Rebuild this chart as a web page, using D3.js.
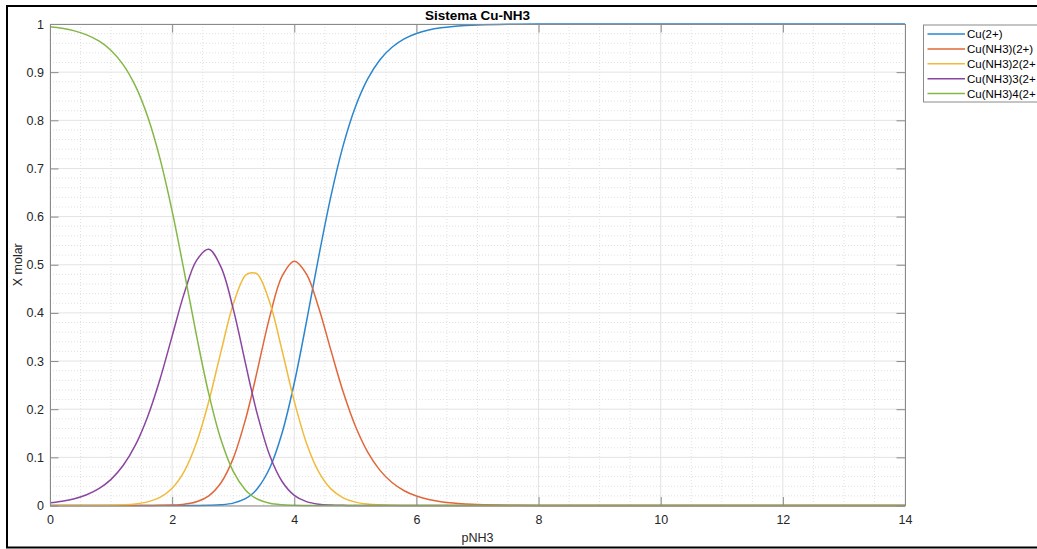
<!DOCTYPE html>
<html>
<head>
<meta charset="utf-8">
<script src="https://cdn.jsdelivr.net/npm/d3@7"></script>
<style>
  html, body { margin: 0; padding: 0; background: #fff; overflow: hidden; }
  svg { display: block; font-family: "Liberation Sans", Arial, Helvetica, sans-serif; }
</style>
</head>
<body>
<svg id="chart" width="1037" height="549"></svg>
<script>
// ---- data ----
const pNH3 = [0,0.2,0.4,0.6,0.8,1.0,1.2,1.4,1.6,1.8,2.0,2.2,2.4,2.6,2.8,3.0,3.2,3.3,3.4,3.6,3.8,4.0,4.2,4.4,4.6,4.8,5.0,5.2,5.4,5.6,5.8,6.0,6.2,6.4,6.6,6.8,7.0,7.5,8,9,10,11,12,13,14];
const cu0 = [0,0,0,0,0,0,0,0,0,0,0,0,0.0001,0.0004,0.0015,0.0049,0.0142,0.0228,0.0357,0.0784,0.1506,0.2544,0.3818,0.5169,0.6426,0.7474,0.8278,0.8855,0.9253,0.9518,0.9692,0.9804,0.9875,0.9921,0.9950,0.9968,0.9980,0.9994,0.9998,1,1,1,1,1,1];
const cu1 = [0,0,0,0,0,0,0,0,0.0001,0.0003,0.0008,0.0027,0.0077,0.0202,0.0473,0.0979,0.1782,0.2283,0.2833,0.3929,0.4762,0.5075,0.4807,0.4106,0.3221,0.2363,0.1651,0.1115,0.0735,0.0477,0.0306,0.0196,0.0124,0.0079,0.0050,0.0032,0.0020,0.0006,0.0002,0,0,0,0,0,0];
const cu2 = [0,0,0,0.0001,0.0002,0.0006,0.0014,0.0032,0.0075,0.0169,0.0360,0.0716,0.1309,0.2164,0.3197,0.4178,0.4780,0.4835,0.4800,0.4209,0.3220,0.2165,0.1294,0.0697,0.0345,0.0160,0.0070,0.0030,0.0013,0.0005,0.0002,0.0001,0,0,0,0,0,0,0,0,0,0,0,0,0];
const cu3 = [0.0057,0.0090,0.0142,0.0224,0.0350,0.0543,0.0835,0.1258,0.1850,0.2618,0.3518,0.4416,0.5091,0.5320,0.4951,0.4084,0.2957,0.2390,0.1872,0.1033,0.0499,0.0212,0.0080,0.0027,0.0009,0.0003,0.0001,0,0,0,0,0,0,0,0,0,0,0,0,0,0,0,0,0,0];
const cu4 = [0.9943,0.9910,0.9857,0.9775,0.9648,0.9451,0.9152,0.8709,0.8074,0.7210,0.6114,0.4842,0.3522,0.2318,0.1364,0.0709,0.0324,0.0208,0.0129,0.0045,0.0014,0.0004,0.0001,0,0,0,0,0,0,0,0,0,0,0,0,0,0,0,0,0,0,0,0,0,0];
// legend labels as visible in the reference (the last three are cut at the figure edge)
const seriesNames = ["Cu(2+)", "Cu(NH3)(2+)", "Cu(NH3)2(2+", "Cu(NH3)3(2+", "Cu(NH3)4(2+"];
const seriesValues = [cu0, cu1, cu2, cu3, cu4];
const xTicks = [0,2,4,6,8,10,12,14];
const xTickLabels = ["0","2","4","6","8","10","12","14"];
const yTicks = [0,0.1,0.2,0.3,0.4,0.5,0.6,0.7,0.8,0.9,1];
const yTickLabels = ["0","0.1","0.2","0.3","0.4","0.5","0.6","0.7","0.8","0.9","1"];
const titleText = "Sistema Cu-NH3";
const xLabelText = "pNH3";
const yLabelText = "X molar";

// ---- styles ----
const colors = ["#2a86cf", "#e0673a", "#f0bb3c", "#8a45a0", "#84b846"];
const L = 50, R = 905, T = 24, B = 505.5;

const svg = d3.select("#chart");

// outer frame
svg.append("rect").attr("x", 7).attr("y", 6).attr("width", 1100).attr("height", 541.5)
  .attr("fill", "#fff").attr("stroke", "#000").attr("stroke-width", 2);

const x = d3.scaleLinear().domain([0, 14]).range([L, R]);
const y = d3.scaleLinear().domain([0, 1]).range([B, T]);

svg.append("rect").attr("x", L).attr("y", T).attr("width", R - L).attr("height", B - T).attr("fill", "#fff");

// minor grid
const gMinor = svg.append("g").attr("stroke", "#d9d9d9").attr("stroke-width", 0.8).attr("stroke-dasharray", "1,2");
d3.range(0, 14.001, 0.5).filter(v => Math.abs(v / 2 - Math.round(v / 2)) > 1e-6).forEach(v => {
  gMinor.append("line").attr("x1", x(v)).attr("x2", x(v)).attr("y1", T).attr("y2", B);
});
d3.range(0, 1.0001, 0.02).filter(v => Math.abs(v * 10 - Math.round(v * 10)) > 1e-6).forEach(v => {
  gMinor.append("line").attr("x1", L).attr("x2", R).attr("y1", y(v)).attr("y2", y(v));
});

// major grid
const gMajor = svg.append("g").attr("stroke", "#e3e3e3").attr("stroke-width", 1);
xTicks.forEach(v => gMajor.append("line").attr("x1", x(v)).attr("x2", x(v)).attr("y1", T).attr("y2", B));
yTicks.forEach(v => gMajor.append("line").attr("x1", L).attr("x2", R).attr("y1", y(v)).attr("y2", y(v)));

// lines
const line = d3.line().x(d => x(d[0])).y(d => y(Math.max(0, d[1]))).curve(d3.curveCatmullRom.alpha(0.5));
seriesValues.forEach((vals, i) => {
  svg.append("path")
    .datum(pNH3.map((p, k) => [p, vals[k]]))
    .attr("fill", "none")
    .attr("stroke", colors[i])
    .attr("stroke-width", 1.5)
    .attr("stroke-linejoin", "round")
    .attr("d", line);
});

// axes
const axisColor = "#8a8a8a";
const labelColor = "#262626";
function styleAxis(g) {
  g.selectAll(".domain").attr("stroke", axisColor).attr("stroke-width", 1);
  g.selectAll(".tick line").attr("stroke", axisColor).attr("stroke-width", 1);
  g.selectAll(".tick text").attr("fill", labelColor).attr("font-size", null).style("font-size", "12.5px")
    .style("font-family", "'Liberation Sans', Arial, sans-serif");
}
svg.append("g").attr("transform", `translate(0,${B})`)
  .call(d3.axisBottom(x).tickValues(xTicks).tickFormat((d, i) => xTickLabels[i]).tickSize(-8.5).tickSizeOuter(0).tickPadding(9.5))
  .call(styleAxis);
svg.append("g").attr("transform", `translate(0,${T})`)
  .call(d3.axisTop(x).tickValues(xTicks).tickFormat("").tickSize(-8.5).tickSizeOuter(0))
  .call(styleAxis);
svg.append("g").attr("transform", `translate(${L},0)`)
  .call(d3.axisLeft(y).tickValues(yTicks).tickFormat((d, i) => yTickLabels[i]).tickSize(-8.5).tickSizeOuter(0).tickPadding(6))
  .call(styleAxis);
svg.append("g").attr("transform", `translate(${R},0)`)
  .call(d3.axisRight(y).tickValues(yTicks).tickFormat("").tickSize(-8.5).tickSizeOuter(0))
  .call(styleAxis);

// title and labels
svg.append("text").attr("x", (L + R) / 2).attr("y", 19.5).attr("text-anchor", "middle")
  .attr("font-weight", "bold").attr("font-size", 13.5).attr("fill", "#000").text(titleText);
svg.append("text").attr("x", (L + R) / 2).attr("y", 541.5).attr("text-anchor", "middle")
  .attr("font-size", 12.5).attr("fill", labelColor).text(xLabelText);
svg.append("text").attr("transform", `translate(22,${(T + B) / 2}) rotate(-90)`).attr("text-anchor", "middle")
  .attr("font-size", 12.5).attr("fill", labelColor).text(yLabelText);

// legend
const lg = svg.append("g");
lg.append("rect").attr("x", 923.5).attr("y", 25).attr("width", 200).attr("height", 77)
  .attr("fill", "#fff").attr("stroke", axisColor).attr("stroke-width", 1);
seriesNames.forEach((name, i) => {
  const yy = 34 + i * 14.9;
  lg.append("line").attr("x1", 927.5).attr("x2", 965).attr("y1", yy).attr("y2", yy)
    .attr("stroke", colors[i]).attr("stroke-width", 1.5);
  lg.append("text").attr("x", 967).attr("y", yy).attr("dy", "0.35em")
    .attr("font-size", 11.5).attr("fill", "#000").text(name);
});
</script>
</body>
</html>
